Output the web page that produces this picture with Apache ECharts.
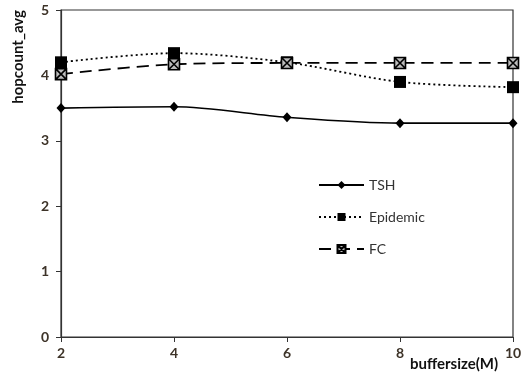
<!DOCTYPE html>
<html><head><meta charset="utf-8">
<script src="https://cdn.jsdelivr.net/npm/echarts@6/dist/echarts.min.js"></script>
<style>html,body{margin:0;padding:0;background:#fff}#c{width:530px;height:378px}</style>
</head><body><div id="c"></div>
<script>
var xValues = [2, 4, 6, 8, 10];
var tshValues = [3.50, 3.52, 3.36, 3.27, 3.27];
var epidemicValues = [4.20, 4.34, 4.20, 3.90, 3.82];
var fcValues = [4.02, 4.17, 4.19, 4.19, 4.19];
var seriesNames = ['TSH', 'Epidemic', 'FC'];

function pairs(vals){ return xValues.map(function(x,i){ return [x, vals[i]]; }); }
var font = 'Lato, "Liberation Sans", sans-serif';
var tickColor = '#3d3328';
var chart = echarts.init(document.getElementById('c'), null, {renderer:'canvas'});
chart.setOption({
  animation:false,
  backgroundColor:'#fff',
  grid:{left:61, right:17, top:10, bottom:41, show:true, borderColor:'#333', borderWidth:1.2, outerBoundsMode:'none', containLabel:false},
  xAxis:{type:'value', min:2, max:10, interval:2,
    name:'buffersize(M)', nameLocation:'end', nameGap:0,
    nameTextStyle:{fontFamily:font, fontWeight:'bold', fontSize:15, color:'#111', padding:[20,16,0,0], align:'right', verticalAlign:'top'},
    axisLine:{lineStyle:{color:'#333', width:1.2}},
    axisTick:{show:true, inside:false, length:5, lineStyle:{color:'#333'}},
    axisLabel:{fontFamily:font, fontSize:14, fontWeight:'bold', color:tickColor, margin:9},
    splitLine:{show:false}},
  yAxis:{type:'value', min:0, max:5, interval:1,
    name:'hopcount_avg', nameLocation:'end', nameRotate:90, nameGap:0,
    nameTextStyle:{fontFamily:font, fontWeight:'bold', fontSize:15, color:'#111', align:'right', verticalAlign:'bottom', padding:[0,0,35,-2]},
    axisLine:{lineStyle:{color:'#333', width:1.2}},
    axisTick:{show:true, inside:false, length:5, lineStyle:{color:'#333'}},
    axisLabel:{fontFamily:font, fontSize:14, fontWeight:'bold', color:tickColor, margin:12},
    splitLine:{show:false}},
  legend:{orient:'vertical', left:313, top:173, itemWidth:45, itemHeight:10, itemGap:18,
    textStyle:{fontFamily:font, fontSize:14, color:'#333'},
    data:seriesNames},
  series:[
    {name:seriesNames[0], type:'line', data:pairs(tshValues), smooth:0.3,
     symbol:'diamond', symbolSize:[9,10], itemStyle:{color:'#000'},
     lineStyle:{color:'#000', width:1.6}},
    {name:seriesNames[1], type:'line', data:pairs(epidemicValues), smooth:0.3,
     symbol:'rect', symbolSize:12, itemStyle:{color:'#000'},
     lineStyle:{color:'#000', width:1.8, type:[2,3]}},
    {name:seriesNames[2], type:'line', data:pairs(fcValues), smooth:0.3,
     symbol:'path://M0,0 L10,0 L10,10 L0,10 Z M0,0 L10,10 M10,0 L0,10', symbolSize:11,
     itemStyle:{color:'#bbb', borderColor:'#000', borderWidth:1.6},
     lineStyle:{color:'#000', width:1.8, type:[12,7]}}
  ]
});
</script></body></html>
